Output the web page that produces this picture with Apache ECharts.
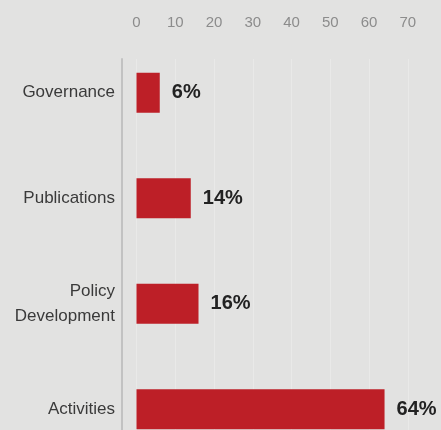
<!DOCTYPE html>
<html>
<head>
<meta charset="utf-8">
<script src="https://cdn.jsdelivr.net/npm/echarts@6/dist/echarts.min.js"></script>
<style>
  html, body { margin: 0; padding: 0; background: #e2e2e1; }
  #chart { width: 441px; height: 430px; }
</style>
</head>
<body>
<div id="chart"></div>
<script>
// Share of effort by area of work (%)
const categories = ['Governance', 'Publications', 'Policy\nDevelopment', 'Activities'];
const shares = [6, 14, 16, 64];
const axisMin = 0;
const axisMax = 70;
const axisStep = 10;

const chart = echarts.init(document.getElementById('chart'), null, { renderer: 'canvas' });

const font = 'Liberation Sans, Helvetica, Arial, sans-serif';
const plotLeft = 136.5;
const plotRight = 33.2;

chart.setOption({
  backgroundColor: '#e2e2e1',
  animation: false,
  grid: [
    // frame: top scale, grid lines and the vertical rule
    { left: plotLeft, right: plotRight, top: 59, bottom: 0, outerBoundsMode: 'none' },
    // bars
    { left: plotLeft, right: plotRight, top: 40, height: 422, outerBoundsMode: 'none' }
  ],
  xAxis: [
    {
      gridIndex: 0, type: 'value', position: 'top',
      min: axisMin, max: axisMax, interval: axisStep,
      axisLine: { show: false }, axisTick: { show: false },
      axisLabel: { color: '#8c8c8c', fontSize: 15, fontFamily: font, margin: 29 },
      splitLine: { show: true, lineStyle: { color: '#e9e9e8', width: 1 } }
    },
    {
      gridIndex: 1, type: 'value',
      min: axisMin, max: axisMax, interval: axisStep,
      show: false
    }
  ],
  yAxis: [
    {
      gridIndex: 0, type: 'value', min: 0, max: 1, offset: 14.5,
      axisLine: { show: true, onZero: false, lineStyle: { color: '#c2c2c2', width: 2 } },
      axisTick: { show: false }, axisLabel: { show: false }, splitLine: { show: false }
    },
    {
      gridIndex: 1, type: 'category', data: categories, inverse: true, offset: 14.5,
      axisLine: { show: false, onZero: false }, axisTick: { show: false },
      axisLabel: {
        color: '#3a3a3a', fontSize: 17, fontFamily: font, margin: 7,
        lineHeight: 25, align: 'right'
      }
    }
  ],
  series: [{
    type: 'bar',
    xAxisIndex: 1, yAxisIndex: 1,
    data: shares,
    barWidth: 40,
    itemStyle: { color: '#bd1f27' },
    label: {
      show: true, position: 'right', distance: 12,
      formatter: '{c}%',
      color: '#222222', fontSize: 20, fontWeight: 'bold', fontFamily: font
    }
  }]
});
</script>
</body>
</html>
